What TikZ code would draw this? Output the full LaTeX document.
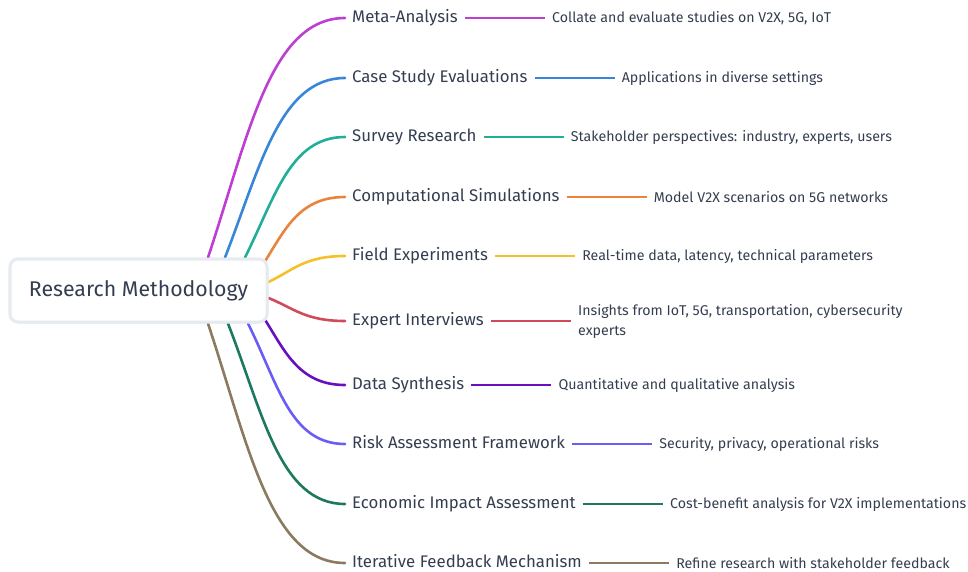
\documentclass[tikz,border=0pt]{standalone}
\usepackage{fontspec}
\setmainfont{Fira Sans}
\usetikzlibrary{positioning}
\definecolor{mmText}{RGB}{52,62,80}
\definecolor{mmEdge}{RGB}{230,235,240}
\definecolor{mmMagenta}{RGB}{190,62,212}
\definecolor{mmBlue}{RGB}{56,134,216}
\definecolor{mmTeal}{RGB}{32,174,152}
\definecolor{mmOrange}{RGB}{232,132,60}
\definecolor{mmYellow}{RGB}{246,192,42}
\definecolor{mmRed}{RGB}{208,74,92}
\definecolor{mmPurple}{RGB}{104,16,190}
\definecolor{mmViolet}{RGB}{106,92,245}
\definecolor{mmGreen}{RGB}{30,120,96}
\definecolor{mmBrown}{RGB}{138,122,94}
\tikzset{
    root/.style={draw=mmEdge, line width=3pt, rounded corners=8pt, fill=white,
                 minimum width=257pt, minimum height=63pt, text=mmText,
                 font=\fontsize{21.3}{25}\selectfont},
    topic/.style={anchor=west, inner xsep=7pt, inner ysep=1pt, text=mmText,
                  text height=12pt, text depth=3pt,
                  font=\fontsize{16.8}{20}\selectfont},
    detail/.style={inner xsep=7pt, inner ysep=2pt, text=mmText, align=left,
                   font=\fontsize{14.2}{20}\selectfont},
    limb/.style={line width=2.6pt, line cap=round},
    twig/.style={line width=2.6pt}
}

\begin{document}
\begin{tikzpicture}[x=1pt, y=-1pt]
  \useasboundingbox (0,0) rectangle (968,572);

  \node[root] (root) at (138.5,290.5) {Research Methodology};

  % topics down the right side
  \node[topic] (meta) at (345,18) {Meta-Analysis};
  \node[topic] (cases) at (345,78) {Case Study Evaluations};
  \node[topic] (survey) at (345,137) {Survey Research};
  \node[topic] (sims) at (345,197) {Computational Simulations};
  \node[topic] (field) at (345,256) {Field Experiments};
  \node[topic] (expert) at (345,321) {Expert Interviews};
  \node[topic] (synth) at (345,385) {Data Synthesis};
  \node[topic] (risk) at (345,444) {Risk Assessment Framework};
  \node[topic] (econ) at (345,504) {Economic Impact Assessment};
  \node[topic] (loop) at (345,563) {Iterative Feedback Mechanism};

  % details
  \node[detail, right=80pt of meta] (metaD) {Collate and evaluate studies on V2X, 5G, IoT};
  \node[detail, right=80pt of cases] (casesD) {Applications in diverse settings};
  \node[detail, right=80pt of survey] (surveyD) {Stakeholder perspectives: industry, experts, users};
  \node[detail, right=80pt of sims] (simsD) {Model V2X scenarios on 5G networks};
  \node[detail, right=80pt of field] (fieldD) {Real-time data, latency, technical parameters};
  \node[detail, right=80pt of expert] (expertD) {Insights from IoT, 5G, transportation, cybersecurity\\experts};
  \node[detail, right=80pt of synth] (synthD) {Quantitative and qualitative analysis};
  \node[detail, right=80pt of risk] (riskD) {Security, privacy, operational risks};
  \node[detail, right=80pt of econ] (econD) {Cost-benefit analysis for V2X implementations};
  \node[detail, right=80pt of loop] (loopD) {Refine research with stakeholder feedback};

  % curved limbs out of the root box
  \draw[limb, mmMagenta] ([xshift=69.5pt]root.north) .. controls +(40,-120) and +(-75,0) .. (meta.west);
  \draw[limb, mmBlue] ([xshift=86.5pt]root.north) .. controls +(35,-90) and +(-65,0) .. (cases.west);
  \draw[limb, mmTeal] ([xshift=106.5pt]root.north) .. controls +(30,-60) and +(-55,0) .. (survey.west);
  \draw[limb, mmOrange] ([xshift=-3pt,yshift=-3pt]root.north east) .. controls +(20,-32) and +(-45,0) .. (sims.west);
  \draw[limb, mmYellow] ([yshift=8.5pt]root.east) .. controls +(25,-12) and +(-40,0) .. (field.west);
  \draw[limb, mmRed] ([yshift=-7.5pt]root.east) .. controls +(25,10) and +(-40,0) .. (expert.west);
  \draw[limb, mmPurple] ([xshift=-3pt,yshift=3pt]root.south east) .. controls +(20,32) and +(-45,0) .. (synth.west);
  \draw[limb, mmViolet] ([xshift=109.5pt]root.south) .. controls +(30,60) and +(-55,0) .. (risk.west);
  \draw[limb, mmGreen] ([xshift=89.5pt]root.south) .. controls +(35,90) and +(-65,0) .. (econ.west);
  \draw[limb, mmBrown] ([xshift=69.5pt]root.south) .. controls +(40,120) and +(-75,0) .. (loop.west);

  % straight twigs to the details
  \draw[twig, mmMagenta] (meta) -- (metaD);
  \draw[twig, mmBlue] (cases) -- (casesD);
  \draw[twig, mmTeal] (survey) -- (surveyD);
  \draw[twig, mmOrange] (sims) -- (simsD);
  \draw[twig, mmYellow] (field) -- (fieldD);
  \draw[twig, mmRed] (expert) -- (expertD);
  \draw[twig, mmPurple] (synth) -- (synthD);
  \draw[twig, mmViolet] (risk) -- (riskD);
  \draw[twig, mmGreen] (econ) -- (econD);
  \draw[twig, mmBrown] (loop) -- (loopD);

  % root box on top of the limb ends
  \node[root] at (root) {Research Methodology};
\end{tikzpicture}
\end{document}
